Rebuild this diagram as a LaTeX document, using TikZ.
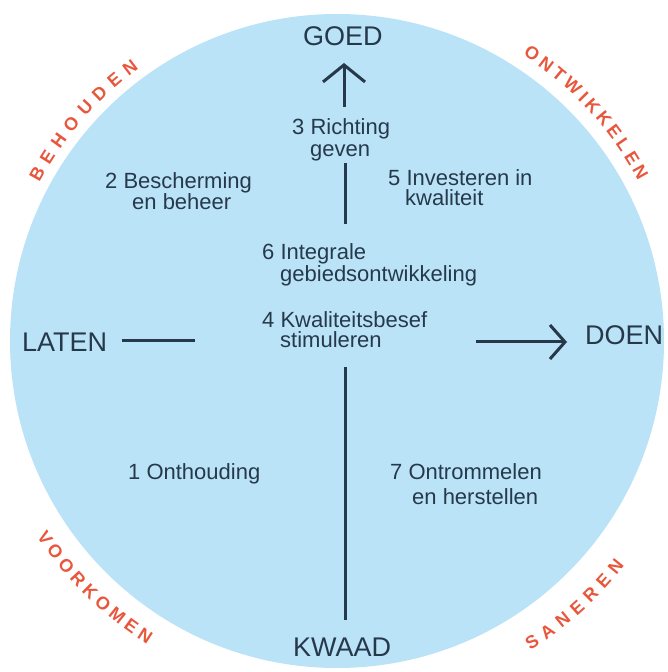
\documentclass[tikz,border=0pt]{standalone}
\usepackage{fontspec}
\setmainfont{Liberation Sans}
\usetikzlibrary{arrows.meta,decorations.text}
\definecolor{disc}{HTML}{BAE3F8}
\definecolor{ink}{HTML}{26394A}
\definecolor{redlab}{HTML}{E8573C}
\tikzset{
  big/.style={inner sep=0pt, anchor=base west, text=ink, font=\fontsize{27}{27}\selectfont},
  lbl/.style={inner sep=0pt, anchor=base west, text=ink, font=\fontsize{22}{22}\selectfont},
  conn/.style={draw=ink, line width=3pt},
  curved/.style={decorate, decoration={text along path, text align=fit to path,
     text={|\fontsize{18}{18}\selectfont\bfseries\color{redlab}|#1}}}
}
\begin{document}
\begin{tikzpicture}[x=1pt,y=1pt]
\useasboundingbox (0,0) rectangle (667,672);
\fill[disc] (337,331) circle (327);
% curved red labels
\path[curved=BEHOUDEN] (337,331) ++(152:337) arc (152:126:337);
\path[curved=ONTWIKKELEN] (337,331) ++(57:341) arc (57:28:341);
\path[curved=VOORKOMEN] (337,331) ++(213:358) arc (213:238:358);
\path[curved=SANEREN] (337,331) ++(302:365) arc (302:322:365);
% axis words
\node[big] (goed) at (303,626) {GOED};
\node[big] (laten) at (22,320) {LATEN};
\node[big] (doen) at (585,327) {DOEN};
\node[big] (kwaad) at (293,15) {KWAAD};
% numbered texts
\node[lbl] (b3a) at (292,537) {3 Richting};
\node[lbl] (b3b) at (310,515) {geven};
\node[lbl] (b2a) at (105,483) {2 Bescherming};
\node[lbl] (b2b) at (132,462) {en beheer};
\node[lbl] (b5a) at (388,486) {5 Investeren in};
\node[lbl] (b5b) at (405,466) {kwaliteit};
\node[lbl] (b6a) at (262,412) {6 Integrale};
\node[lbl] (b6b) at (280,390) {gebiedsontwikkeling};
\node[lbl] (b4a) at (262,344) {4 Kwaliteitsbesef};
\node[lbl] (b4b) at (280,324) {stimuleren};
\node[lbl] (b1) at (128,192) {1 Onthouding};
\node[lbl] (b7a) at (390,192) {7 Ontrommelen};
\node[lbl] (b7b) at (412,167) {en herstellen};
% connector end points
\coordinate (upS) at (344,565);
\coordinate (upE) at (344,609);
\coordinate (v1S) at (345,509);
\coordinate (v1E) at (345,448);
\coordinate (lS) at (122,331);
\coordinate (lE) at (195,331);
\coordinate (rS) at (476,330);
\coordinate (rE) at (567,330);
\coordinate (dS) at (345,305);
\coordinate (dE) at (345,52);
% connectors
\draw[conn, -{Straight Barb[length=17pt,width=42pt]}] (upS) -- (upE);
\draw[conn] (v1S) -- (v1E);
\draw[conn] (lS) -- (lE);
\draw[conn, -{Straight Barb[length=15pt,width=34pt]}] (rS) -- (rE);
\draw[conn] (dS) -- (dE);
\end{tikzpicture}
\end{document}
